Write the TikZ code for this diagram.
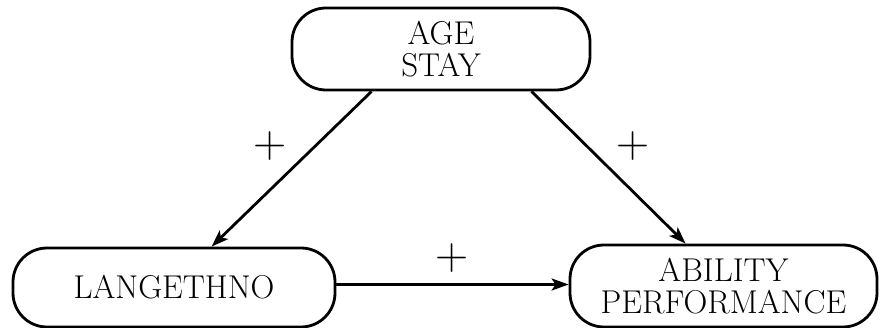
\documentclass[tikz,border=0pt]{standalone}
\usepackage{fontspec}
\usetikzlibrary{arrows.meta}
\begin{document}
\begin{tikzpicture}[x=1pt,y=-1pt,
  box/.style={draw,line width=2.8pt,rounded corners=34pt,inner sep=0pt,align=center,
    font=\fontsize{33}{36}\selectfont},
  link/.style={line width=2.8pt,-{Stealth[length=17pt,width=12pt,inset=4pt]}},
  sign/.style={inner sep=0pt,font=\fontsize{46}{46}\selectfont}]
\useasboundingbox (0,0) rectangle (880,328);
\node[box,minimum width=298pt,minimum height=82pt] (top) at (441,49) {AGE\\[-4pt]STAY};
\node[box,minimum width=322pt,minimum height=79pt] (left) at (174,287.5) {LANGETHNO};
\node[box,minimum width=307pt,minimum height=82pt] (right) at (723.5,286) {ABILITY\\[-4pt]PERFORMANCE};
\draw[link] ([xshift=81pt]top.south west) -- ([xshift=200pt]left.north west);
\draw[link] ([xshift=-60pt]top.south east) -- ([xshift=117pt]right.north west);
\draw[link] ([yshift=3pt]left.east) -- ([yshift=3pt]left.east -| right.west);
\node[sign] (p1) at (270,146) {+};
\node[sign] (p2) at (633,146) {+};
\node[sign] (p3) at (452,258) {+};
\end{tikzpicture}
\end{document}
